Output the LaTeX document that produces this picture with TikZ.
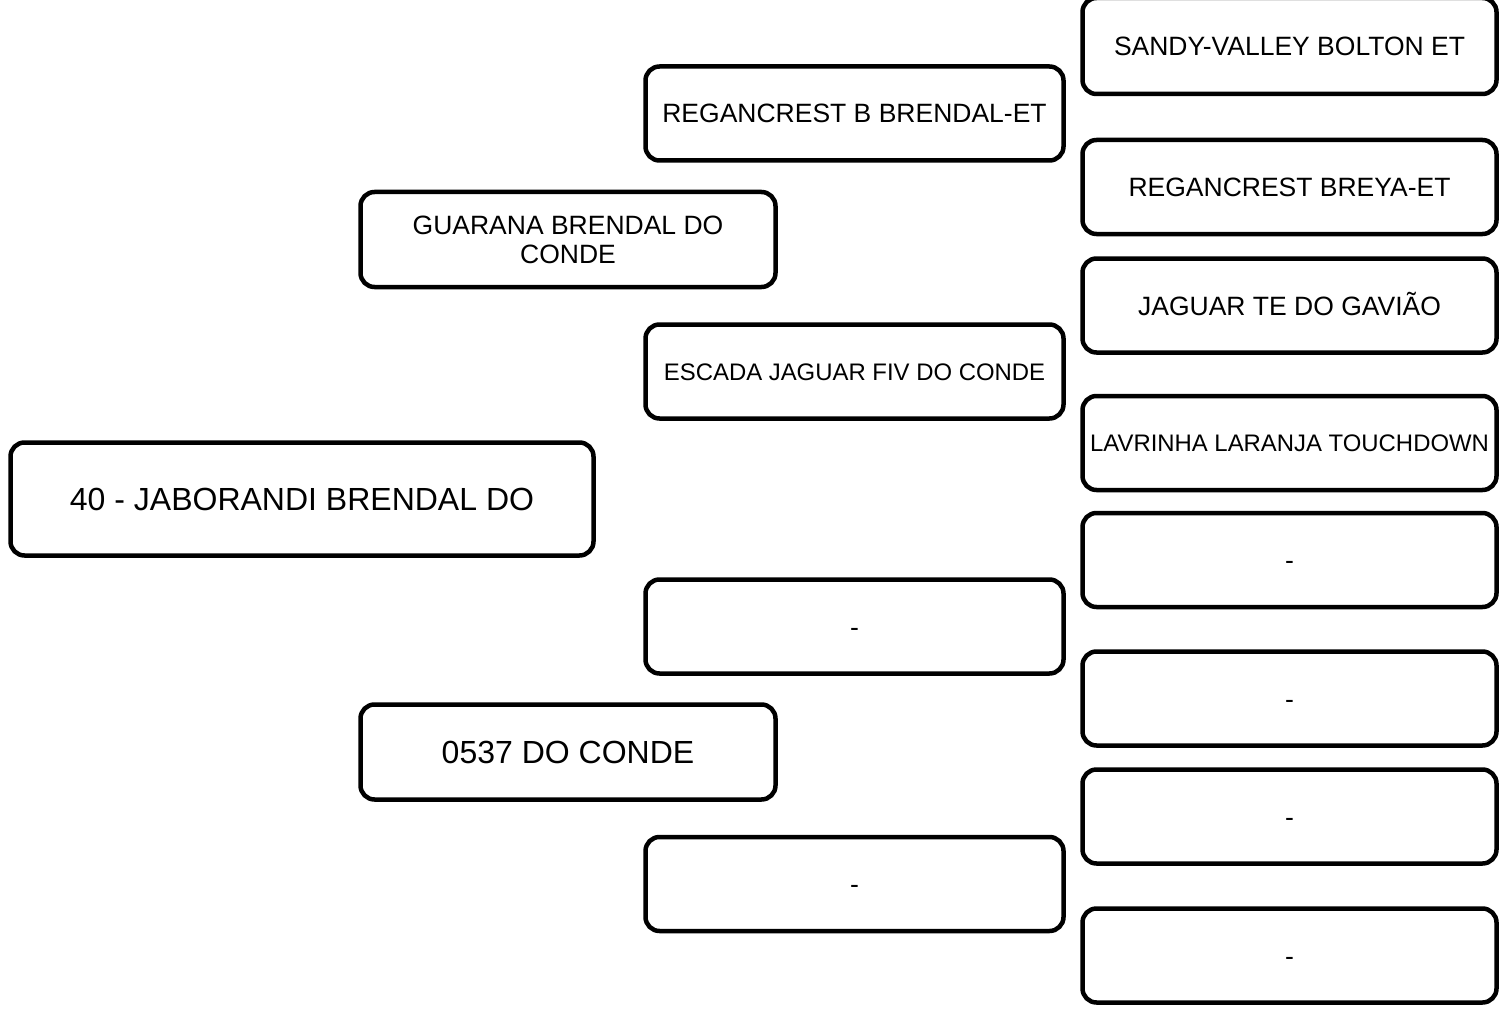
\documentclass[tikz,border=0pt]{standalone}
\usepackage{fontspec}
\setmainfont{Liberation Sans}
\usepackage{tikz}
\usetikzlibrary{positioning}

\begin{document}
\begin{tikzpicture}[
  x=1pt, y=-1pt,
  box/.style={draw=black, line width=4.5pt, rounded corners=14pt, fill=white,
              inner sep=0pt, align=center, text=black,
              text height=19pt, text depth=0pt,
              font=\fontsize{26.5}{29}\selectfont},
  bigtext/.style={font=\fontsize{32}{36}\selectfont, text height=23pt},
  smalltext/.style={font=\fontsize{23.9}{27}\selectfont, text height=17pt},
  animal/.style={box, bigtext, minimum width=583pt, minimum height=113pt},
  parent/.style={box, minimum width=415pt, minimum height=95pt},
  grand/.style={box, minimum width=418pt, minimum height=94pt},
  great/.style={box, minimum width=414pt, minimum height=94pt},
]
  \useasboundingbox (0,0) rectangle (1501,1011);

  % Animal
  \node[animal] (animal) at (302,499) {40 - JABORANDI BRENDAL DO};

  % Parents
  \node[parent, text height=47pt] (sire) at (568,239.5) {GUARANA BRENDAL DO\\CONDE};
  \node[parent, bigtext] (dam) at (568,752) {0537 DO CONDE};

  % Grandparents
  \node[grand] (ss) at (854.5,113.5) {REGANCREST B BRENDAL-ET};
  \node[grand, smalltext] (sd) at (854.5,371.5) {ESCADA JAGUAR FIV DO CONDE};
  \node[grand] (ds) at (854.5,626.5) {-};
  \node[grand] (dd) at (854.5,884) {-};

  % Great-grandparents
  \node[great, minimum height=96pt] (sss) at (1289.5,46) {SANDY-VALLEY BOLTON ET};
  \node[great] (ssd) at (1289.5,187) {REGANCREST BREYA-ET};
  \node[great] (sds) at (1289.5,305.5) {JAGUAR TE DO GAVIÃO};
  \node[great, smalltext] (sdd) at (1289.5,443) {LAVRINHA LARANJA TOUCHDOWN};
  \node[great] (dss) at (1289.5,560) {-};
  \node[great] (dsd) at (1289.5,698.5) {-};
  \node[great] (dds) at (1289.5,816.5) {-};
  \node[great] (ddd) at (1289.5,955.5) {-};
\end{tikzpicture}
\end{document}
